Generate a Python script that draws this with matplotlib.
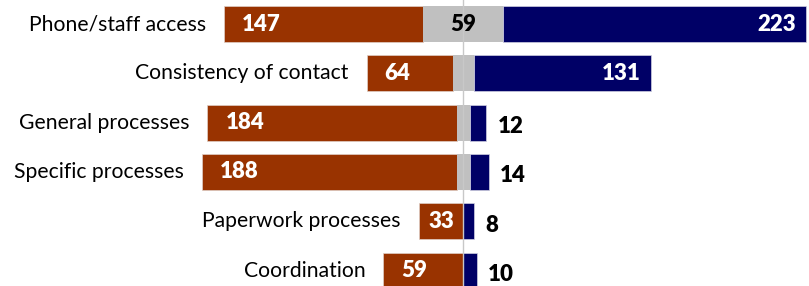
import matplotlib.pyplot as plt
import numpy as np

plt.rcParams['font.family'] = ['Lato', 'DejaVu Sans']

categories = ['Phone/staff access', 'Consistency of contact', 'General processes',
              'Specific processes', 'Paperwork processes', 'Coordination']
negative = [147, 64, 184, 188, 33, 59]
neutral = [59, 15, 10, 10, 0, 0]
positive = [223, 131, 12, 14, 8, 10]

orange = '#993300'
grey = '#C0C0C0'
navy = '#000066'

fig = plt.figure(figsize=(8.09, 2.86), dpi=100)
ax = fig.add_axes([0, 0, 1, 1])

y = np.arange(len(categories))
neg = np.array(negative)
neu = np.array(neutral)
pos = np.array(positive)

neg_left = -neu / 2 - neg
neu_left = -neu / 2
pos_left = neu / 2

h = 0.73
ax.barh(y, neg, left=neg_left, height=h, color=orange, edgecolor='#e0d0c8', linewidth=0.5)
ax.barh(y, neu, left=neu_left, height=h, color=grey, linewidth=0)
ax.barh(y, pos, left=pos_left, height=h, color=navy, edgecolor='#d0d0e0', linewidth=0.5)

ax.axvline(0, color='#C8C8C8', linewidth=1, zorder=5)

lab_size = 15.2
val_size = 16
wt = 'heavy'

for i in range(len(categories)):
    # category label left of the bar
    ax.annotate(categories[i], (neg_left[i], y[i]), xytext=(-18, 0),
                textcoords='offset pixels', ha='right', va='center', fontsize=lab_size)
    # negative value
    if neg[i] < 50:
        ax.text(neg_left[i] + neg[i] / 2, y[i], str(negative[i]), ha='center', va='center',
                color='white', fontsize=val_size, fontweight=wt, zorder=6)
    else:
        ax.annotate(str(negative[i]), (neg_left[i], y[i]), xytext=(18, 0),
                    textcoords='offset pixels', ha='left', va='center',
                    color='white', fontsize=val_size, fontweight=wt, zorder=6)
    # neutral value
    if neu[i] > 30:
        ax.text(0, y[i], str(neutral[i]), ha='center', va='center',
                color='black', fontsize=val_size, fontweight=wt, zorder=6)
    # positive value
    end = pos_left[i] + pos[i]
    if pos[i] > 50:
        ax.annotate(str(positive[i]), (end, y[i]), xytext=(-10, 0),
                    textcoords='offset pixels', ha='right', va='center',
                    color='white', fontsize=val_size, fontweight=wt, zorder=6)
    else:
        ax.annotate(str(positive[i]), (end, y[i]), xytext=(11, -4),
                    textcoords='offset pixels', ha='left', va='center',
                    color='black', fontsize=val_size, fontweight=wt, zorder=6)

ax.set_xlim(-342, 255)
ax.set_ylim(5.314, -0.487)
ax.axis('off')

fig.savefig('out.png', dpi=100)
